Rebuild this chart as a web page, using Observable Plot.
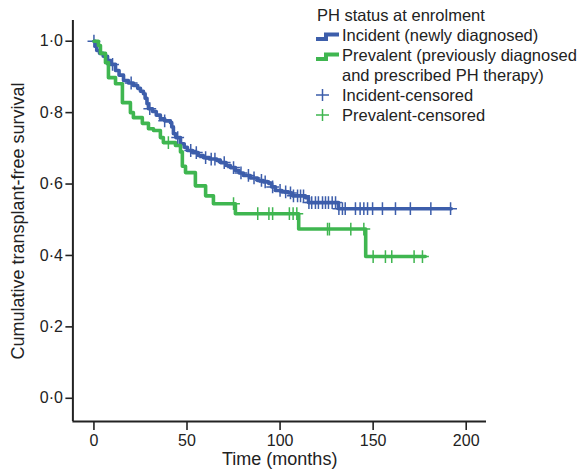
<!DOCTYPE html>
<html>
<head>
<meta charset="utf-8">
<script src="https://cdn.jsdelivr.net/npm/d3@7"></script>
<script src="https://cdn.jsdelivr.net/npm/@observablehq/plot@0.6"></script>
<style>
  html, body { margin: 0; padding: 0; background: #fff; }
  #wrap { position: relative; width: 579px; height: 474px; font-family: "Liberation Sans", Arial, sans-serif; color: #222; }
  #legend { position: absolute; left: 0; top: 0; font-size: 16.5px; }
  #legend .row { position: absolute; height: 20px; line-height: 20px; white-space: nowrap; }
  #legend svg { position: absolute; }
</style>
</head>
<body>
<div id="wrap"></div>
<script>
// ---- data ----
const incidentT = [0, 0.8, 1.5, 3, 5, 7.3, 9, 11.6, 13.5, 15.9, 18.5, 21.2, 23.5, 25, 26.6, 27.5, 28.5, 29.3, 31.5, 33.5, 35.7, 38, 41.1, 41.8, 42.7, 44, 46.5, 48.5, 50.2, 53, 56, 58.8, 62, 66, 68, 71, 73.3, 76, 78, 80.3, 84, 87.9, 91, 93.8, 95.5, 97.5, 101, 104.5, 106.7, 113.6, 115.3, 131.4, 192];
const incidentS = [1.0, 0.985, 0.974, 0.966, 0.958, 0.946, 0.935, 0.918, 0.905, 0.89, 0.883, 0.876, 0.868, 0.86, 0.853, 0.84, 0.825, 0.811, 0.803, 0.793, 0.783, 0.777, 0.772, 0.76, 0.741, 0.73, 0.713, 0.703, 0.694, 0.688, 0.68, 0.674, 0.67, 0.666, 0.66, 0.652, 0.646, 0.638, 0.631, 0.624, 0.617, 0.61, 0.606, 0.602, 0.592, 0.582, 0.578, 0.575, 0.567, 0.562, 0.548, 0.531, 0.531];
const prevalentT = [0, 2.4, 3.5, 6.2, 7.8, 11.6, 15.3, 19.6, 21.2, 26, 29.3, 32, 35.7, 37.3, 43.8, 46.5, 47.5, 49.2, 54.5, 60, 64.2, 76, 110, 146, 178];
const prevalentS = [1.0, 0.988, 0.966, 0.94, 0.898, 0.881, 0.828, 0.80, 0.786, 0.77, 0.755, 0.75, 0.73, 0.716, 0.708, 0.69, 0.65, 0.632, 0.595, 0.567, 0.545, 0.517, 0.474, 0.397, 0.397];
const incidentCensorT = [0, 10, 20, 30, 38, 45, 52, 55, 60, 63, 65, 70, 75, 79, 83, 86, 90, 92, 96, 100, 103, 105.6, 107.2, 109.4, 111, 112.6, 115.5, 117, 119, 120.6, 122.8, 124.4, 126, 128, 129.8, 131.6, 133.5, 135, 140.5, 143, 145, 147, 149.7, 155, 162, 170, 181, 191.6];
const prevalentCensorT = [40, 75, 88, 94, 96, 105, 107, 109, 125.5, 126.5, 138, 145, 150, 156.6, 160, 172, 176.5];
const xTicks = [0, 50, 100, 150, 200];
const yTicks = [0, 0.2, 0.4, 0.6, 0.8, 1.0];
const legendTitle = "PH status at enrolment";
const legendItems = ["Incident (newly diagnosed)", "Prevalent (previously diagnosed", "and prescribed PH therapy)", "Incident-censored", "Prevalent-censored"];
const xLabel = "Time (months)";
const yLabel = "Cumulative transplant-free survival";

const BLUE = "#3d5eab";
const GREEN = "#3fb650";
const INK = "#222";

function series(T, S) { return T.map((t, i) => ({t, s: S[i]})); }
function sAt(T, S, t) { let v = S[0]; for (let i = 0; i < T.length; i++) { if (T[i] <= t) v = S[i]; } return v; }

const incident = series(incidentT, incidentS);
const prevalent = series(prevalentT, prevalentS);
const incCens = incidentCensorT.map(t => ({t, s: sAt(incidentT, incidentS, t)}));
const prevCens = prevalentCensorT.map(t => ({t, s: sAt(prevalentT, prevalentS, t)}));

const xMin = -11.3, xMax = 210.9, yMin = -0.065, yMax = 1.058;
const fmtY = d => d3.format(".1f")(d).replace(".", "\u00B7");

const chart = Plot.plot({
  width: 579,
  height: 474,
  marginLeft: 72.4,
  marginRight: 93,
  marginTop: 20,
  marginBottom: 53,
  style: { fontFamily: "'Liberation Sans', Arial, sans-serif", color: INK, background: "#fff" },
  x: { domain: [xMin, xMax] },
  y: { domain: [yMin, yMax] },
  marks: [
    Plot.axisX({ ticks: xTicks, tickSize: 9, tickPadding: 4, fontSize: 16, label: null, stroke: INK, strokeWidth: 1.6, tickFormat: d3.format("d") }),
    Plot.axisY({ ticks: yTicks, tickSize: 7, tickPadding: 3, fontSize: 16, label: null, stroke: INK, strokeWidth: 1.6, tickFormat: fmtY }),
    Plot.ruleX([xMin], { stroke: INK, strokeWidth: 2 }),
    Plot.ruleY([yMin], { stroke: INK, strokeWidth: 2 }),
    Plot.line(incident, { x: "t", y: "s", curve: "step-after", stroke: BLUE, strokeWidth: 3.6 }),
    Plot.dot(incCens, { x: "t", y: "s", symbol: "plus", r: 4.2, stroke: BLUE, strokeWidth: 1.5 }),
    Plot.line(prevalent, { x: "t", y: "s", curve: "step-after", stroke: GREEN, strokeWidth: 3.6 }),
    Plot.dot(prevCens, { x: "t", y: "s", symbol: "plus", r: 4.2, stroke: GREEN, strokeWidth: 1.5 }),
    Plot.text([xLabel], { frameAnchor: "bottom", dy: 43, fontSize: 18, fill: INK }),
    Plot.text([yLabel], { frameAnchor: "left", textAnchor: "middle", dx: -54.5, rotate: -90, fontSize: 18, fill: INK })
  ]
});

const wrap = document.getElementById("wrap");
wrap.appendChild(chart);

// ---- legend overlay ----
const legend = document.createElement("div");
legend.id = "legend";
const rows = [
  { text: legendTitle, left: 317, top: 5, sw: null },
  { text: legendItems[0], left: 342, top: 25, sw: "stepB" },
  { text: legendItems[1], left: 342, top: 45, sw: "stepG" },
  { text: legendItems[2], left: 342, top: 65, sw: null },
  { text: legendItems[3], left: 342, top: 85, sw: "plusB" },
  { text: legendItems[4], left: 342, top: 105, sw: "plusG" }
];
const ns = "http://www.w3.org/2000/svg";
rows.forEach(r => {
  const d = document.createElement("div");
  d.className = "row";
  d.style.left = r.left + "px";
  d.style.top = r.top + "px";
  d.textContent = r.text;
  legend.appendChild(d);
  if (r.sw) {
    const s = document.createElementNS(ns, "svg");
    s.setAttribute("width", 26); s.setAttribute("height", 20);
    s.style.left = "315px"; s.style.top = r.top + "px";
    const p = document.createElementNS(ns, "path");
    if (r.sw.startsWith("step")) {
      p.setAttribute("d", "M1,14 H11 V9.5 H24");
      p.setAttribute("stroke-width", 4);
    } else {
      p.setAttribute("d", "M1,10 H14 M7.5,4 V16");
      p.setAttribute("stroke-width", 1.5);
    }
    p.setAttribute("fill", "none");
    p.setAttribute("stroke", r.sw.endsWith("B") ? BLUE : GREEN);
    s.appendChild(p);
    legend.appendChild(s);
  }
});
wrap.appendChild(legend);
</script>
</body>
</html>
